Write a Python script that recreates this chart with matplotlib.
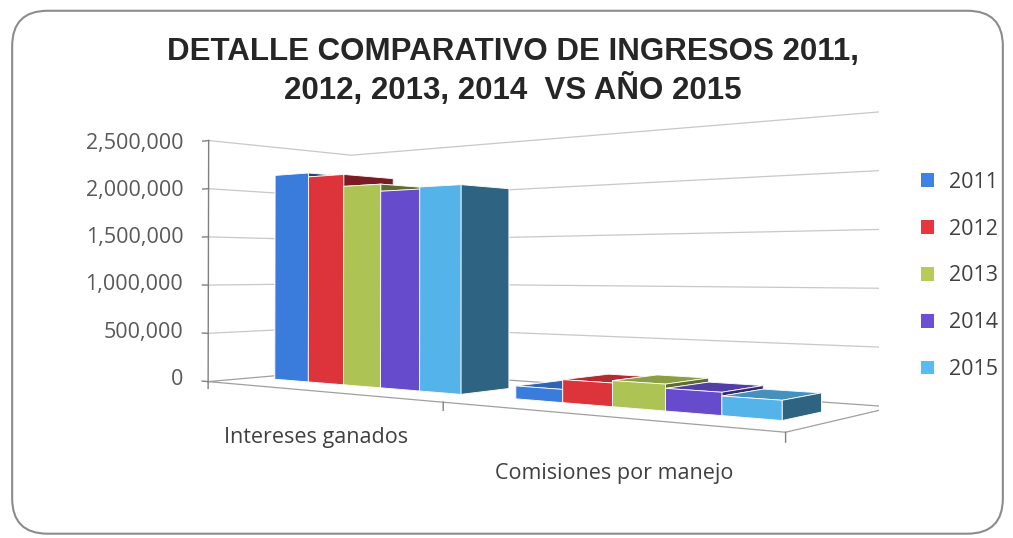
import numpy as np
import matplotlib.pyplot as plt
from matplotlib.colors import LightSource
from matplotlib.patches import FancyBboxPatch, Patch
from mpl_toolkits.mplot3d import proj3d

categorias = ['Intereses ganados', 'Comisiones por manejo']
anios = ['2011', '2012', '2013', '2014', '2015']
intereses = [2160000, 2120000, 2000000, 1930000, 1950000]
comisiones = [115000, 200000, 220000, 185000, 155000]
colores = ['#3D82E6', '#E8363F', '#B5CC58', '#6B50D6', '#58BCF4']
ticks = [0, 500000, 1000000, 1500000, 2000000, 2500000]

fig = plt.figure(figsize=(10.13, 5.38), dpi=100)
fig.patch.set_facecolor('white')
marco = FancyBboxPatch((0.012, 0.008), 0.978, 0.972, boxstyle='round,pad=0,rounding_size=0.035',
                       mutation_aspect=1013/538, transform=fig.transFigure,
                       fc='none', ec='#8c8c8c', lw=1.5)
fig.patches.append(marco)

fig.text(0.506, 0.867, 'DETALLE COMPARATIVO DE INGRESOS 2011,\n2012, 2013, 2014  VS AÑO 2015',
         ha='center', va='center', fontsize=22.5, fontweight='bold', family='Liberation Sans',
         linespacing=1.2, color='#262626')

ax = fig.add_axes([0.13, -0.197, 0.738, 1.39], projection='3d', computed_zorder=False)
ax.set_facecolor('none')

# barras
w = 0.16
xs, dz, cols = [], [], []
for i, vals in enumerate([intereses, comisiones]):
    for j, v in enumerate(vals):
        xs.append(i + 0.5 - 2.5 * w + j * w)
        dz.append(v)
        cols.append(colores[j])
n = len(xs)
luz = LightSource(azdeg=202, altdeg=20.5)
ax.bar3d(xs, [0.3] * n, [0] * n, w, 0.35, dz, color=cols, shade=True, lightsource=luz,
         edgecolor='white', linewidth=0.6, zorder=3)

# paredes y piso
for t in ticks[1:]:
    ax.plot([0, 0, 2], [0, 1, 1], [t, t, t], color='#c8c8c8', lw=0.9, zorder=1)
ax.plot([0, 2, 2, 0, 0], [0, 0, 1, 1, 0], [0, 0, 0, 0, 0], color='#a0a0a0', lw=0.9, zorder=1)
ax.plot([0, 0], [0, 0], [0, 2500000], color='#808080', lw=1.0, zorder=2)
for t in ticks:
    ax.plot([-0.03, 0], [0, 0], [t, t], color='#808080', lw=1.0, zorder=2)
for k in range(3):
    ax.plot([k, k], [0, 0], [0, -70000], color='#808080', lw=1.0, zorder=2)

ax.set_xlim(0, 2)
ax.set_ylim(0, 1)
ax.set_zlim(0, 2500000)
ax.set_box_aspect((0.451, 0.143, 0.174))
ax.view_init(elev=-0.5, azim=-52)
ax.set_proj_type('persp', focal_length=0.304)
ax.set_axis_off()

# textos proyectados a 2D
M = ax.get_proj()
for t in ticks:
    px, py, _ = proj3d.proj_transform(-0.13, 0, t, M)
    ax.text2D(px, py, f'{t:,}', transform=ax.transData, ha='right', va='center',
              fontsize=15.5, family='Open Sans', color='#595959')
for i, c in enumerate(categorias):
    px, py, _ = proj3d.proj_transform(i + 0.5 + 0.05 * i, 0, -440000, M)
    ax.text2D(px, py, c, transform=ax.transData, ha='center', va='center',
              fontsize=15.5, family='Open Sans', color='#404040')

handles = [Patch(facecolor=c) for c in colores]
fig.legend(handles, anios, loc='center left', bbox_to_anchor=(0.89, 0.487), frameon=False,
           handlelength=0.6, handleheight=0.6, labelspacing=1.2, handletextpad=0.7,
           prop={'family': 'Open Sans', 'size': 15.5}, labelcolor='#404040')

fig.savefig('out.png', dpi=100)
